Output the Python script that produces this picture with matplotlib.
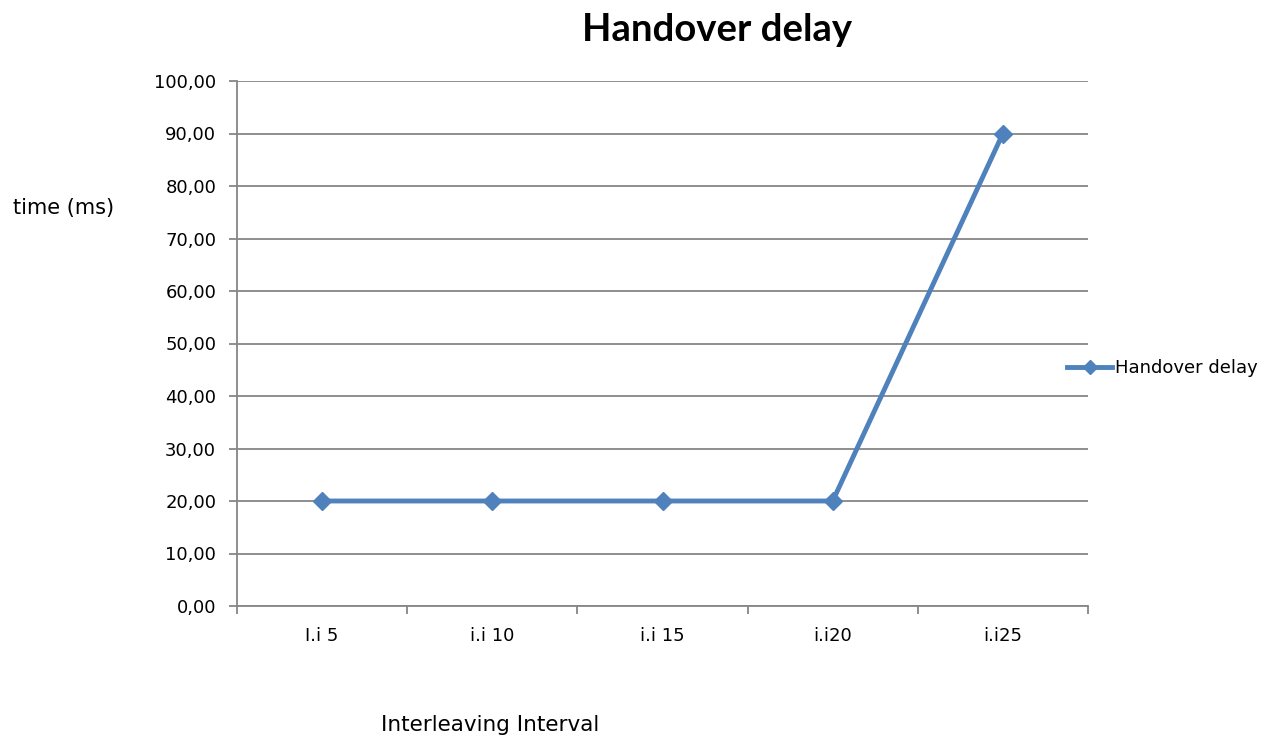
import numpy as np
import matplotlib.pyplot as plt
from matplotlib.ticker import FixedLocator, FuncFormatter

categories = ["I.i 5", "i.i 10", "i.i 15", "i.i20", "i.i25"]
delay = [20.0, 20.0, 20.0, 20.0, 90.0]
yticks = np.arange(0, 101, 10)

blue = "#4F81BD"
grid = "#868686"

fig = plt.figure(figsize=(12.74, 7.40), dpi=100)
ax = fig.add_axes([237/1274, 1-606/740, (1088-237)/1274, (606-81)/740])

x = np.arange(len(categories))
ax.plot(x, delay, color=blue, lw=3.5, marker="D", ms=9, label="Handover delay")

ax.set_xlim(-0.5, len(categories) - 0.5)
ax.set_ylim(0, 100)
ax.set_yticks(yticks)
ax.yaxis.set_major_formatter(FuncFormatter(lambda v, p: f"{v:.2f}".replace(".", ",")))
ax.yaxis.grid(True, color=grid, lw=1.3)
ax.set_axisbelow(True)

ax.set_xticks(np.arange(-0.5, len(categories)))
ax.set_xticklabels([])
ax.xaxis.set_minor_locator(FixedLocator(x))
ax.set_xticklabels(categories, minor=True)
ax.tick_params(axis="x", which="minor", length=0, pad=15, labelsize=13)
ax.tick_params(axis="x", which="major", length=6, color=grid, width=1.3)
ax.tick_params(axis="y", length=6, color=grid, width=1.3, labelsize=13, pad=9)

for s in ["top", "right"]:
    ax.spines[s].set_visible(False)
for s in ["left", "bottom"]:
    ax.spines[s].set_color(grid)
    ax.spines[s].set_linewidth(1.3)

fig.text(717/1274, 1-30/740, "Handover delay", ha="center", va="center",
         fontsize=27.5, fontweight="bold", family="Lato")
fig.text(64/1274, 1-208/740, "time (ms)", ha="center", va="center", fontsize=15)
fig.text(490/1274, 1-725/740, "Interleaving Interval", ha="center", va="center", fontsize=15.5)

ax.legend(loc="center left", bbox_to_anchor=(1060/1274, 1-368/740),
          bbox_transform=fig.transFigure, frameon=False, fontsize=13,
          handlelength=2.5, handletextpad=0.15, borderaxespad=0, markerscale=0.8)

fig.savefig("out.png", dpi=100)
